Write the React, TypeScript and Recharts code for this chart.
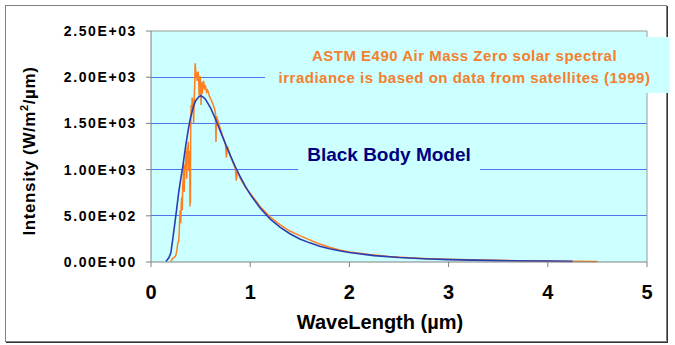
import React from "react";
import {
  LineChart,
  Line,
  XAxis,
  YAxis,
  CartesianGrid,
  ReferenceLine,
} from "recharts";

// black body model (W/m2/um)
const bbWave = [
  0.15, 0.18, 0.2, 0.22, 0.25, 0.28, 0.3, 0.32, 0.35, 0.38, 0.4, 0.43, 0.45,
  0.48, 0.5, 0.53, 0.55, 0.6, 0.65, 0.7, 0.75, 0.8, 0.85, 0.9, 0.95, 1.0, 1.1,
  1.2, 1.3, 1.4, 1.5, 1.6, 1.7, 1.8, 1.9, 2.0, 2.25, 2.5, 2.75, 3.0, 3.5, 4.0,
  4.25,
];
const bbIntensity = [
  5, 45, 100, 250, 500, 760, 900, 1030, 1260, 1460, 1570, 1690, 1745, 1786,
  1800, 1782, 1760, 1669, 1548, 1414, 1280, 1151, 1031, 920, 821, 732, 584,
  467, 377, 306, 250, 207, 171, 143, 121, 102, 69, 49, 35, 26, 15, 9, 7,
];

// ASTM E490 AM0 spectrum
const am0Wave = [
  0.2, 0.22, 0.24, 0.25, 0.26, 0.27, 0.28, 0.285, 0.29, 0.295, 0.3, 0.305,
  0.31, 0.315, 0.32, 0.325, 0.33, 0.335, 0.34, 0.345, 0.35, 0.355, 0.36,
  0.365, 0.37, 0.375, 0.38, 0.385, 0.39, 0.393, 0.396, 0.397, 0.4, 0.405,
  0.41, 0.415, 0.42, 0.425, 0.43, 0.435, 0.44, 0.445, 0.45, 0.455, 0.46,
  0.465, 0.47, 0.475, 0.48, 0.485, 0.49, 0.495, 0.5, 0.505, 0.51, 0.515,
  0.52, 0.525, 0.53, 0.54, 0.55, 0.56, 0.57, 0.58, 0.59, 0.6, 0.62, 0.64,
  0.65, 0.655, 0.66, 0.68, 0.7, 0.72, 0.75, 0.76, 0.77, 0.8, 0.85, 0.86, 0.87,
  0.9, 0.95, 1.0, 1.1, 1.2, 1.3, 1.4, 1.5, 1.6, 1.7, 1.8, 1.9, 2.0, 2.2, 2.4,
  2.6, 2.8, 3.0, 3.2, 3.5, 3.8, 4.0, 4.2, 4.5,
];
const am0Intensity = [
  8, 40, 55, 70, 120, 200, 230, 330, 480, 560, 420, 620, 700, 560, 820, 900,
  1050, 760, 1000, 1060, 1090, 1200, 900, 1250, 1180, 1300, 1020, 980, 1200,
  600, 1000, 640, 1450, 1700, 1620, 1780, 1750, 1680, 1500, 1750, 1900, 2150,
  2080, 2000, 2050, 1960, 2030, 2060, 2000, 1800, 1950, 2010, 1920, 1700,
  1950, 1820, 1870, 1900, 1960, 1880, 1900, 1840, 1860, 1830, 1790, 1770,
  1720, 1660, 1610, 1300, 1580, 1510, 1440, 1370, 1280, 1130, 1250, 1150,
  1010, 880, 990, 905, 810, 745, 600, 490, 405, 335, 285, 240, 195, 160, 130,
  108, 80, 60, 45, 36, 30, 25, 18, 12, 10, 8, 6,
];

const xTicks = [0, 1, 2, 3, 4, 5];
const yTicks = [0, 500, 1000, 1500, 2000, 2500];
const yTickLabels = [
  "0.00E+00",
  "5.00E+02",
  "1.00E+03",
  "1.50E+03",
  "2.00E+03",
  "2.50E+03",
];
const gridValues = [500, 1000, 1500, 2000];

const bbData = bbWave.map((x, i) => ({ x, y: bbIntensity[i] }));
const am0Data = am0Wave.map((x, i) => ({ x, y: am0Intensity[i] }));

const FONT = "'Liberation Sans', Arial, sans-serif";

const App: React.FC = () => {
  return (
    <div
      style={{
        position: "absolute",
        left: 0,
        top: 0,
        width: 675,
        height: 345,
        background: "#fff",
        fontFamily: FONT,
        overflow: "hidden",
      }}
    >
      {/* outer frame */}
      <div
        style={{
          position: "absolute",
          left: 5,
          top: 5,
          width: 660,
          height: 335,
          border: "1px solid #808080",
          boxShadow: "1px 1px 0 #333",
        }}
      />

      <div style={{ position: "absolute", left: 0, top: 0 }}>
        <LineChart
          width={675}
          height={345}
          margin={{ top: 31, right: 28, bottom: 23, left: 0 }}
        >
          <CartesianGrid
            vertical={false}
            horizontal={false}
            fill="#ccffff"
            fillOpacity={1}
          />
          {gridValues.map((v) => (
            <ReferenceLine
              key={v}
              y={v}
              stroke="#4f74ee"
              strokeWidth={1}
              shapeRendering="crispEdges"
            />
          ))}
          <XAxis
            type="number"
            dataKey="x"
            domain={[0, 5]}
            ticks={xTicks}
            height={60}
            tickSize={5}
            tickMargin={18}
            stroke="#808080"
            tick={{ fill: "#000", fontSize: 20, fontWeight: "bold", fontFamily: FONT }}
          />
          <YAxis
            type="number"
            dataKey="y"
            domain={[0, 2500]}
            ticks={yTicks}
            width={151}
            tickSize={5}
            tickMargin={9}
            stroke="#808080"
            tickFormatter={(v: number) => yTickLabels[yTicks.indexOf(v)]}
            tick={{
              fill: "#000",
              fontSize: 14,
              fontWeight: "bold",
              fontFamily: FONT,
              letterSpacing: 1.6,
            }}
          />
          <ReferenceLine y={2500} stroke="#999" />
          <ReferenceLine x={5} stroke="#999" />
          <Line
            data={am0Data}
            dataKey="y"
            type="linear"
            stroke="#ff7f1e"
            strokeWidth={1.5}
            dot={false}
            isAnimationActive={false}
          />
          <Line
            data={bbData}
            dataKey="y"
            type="linear"
            stroke="#2a3db0"
            strokeWidth={1.6}
            dot={false}
            isAnimationActive={false}
          />
        </LineChart>
      </div>

      {/* y axis title */}
      <div
        style={{
          position: "absolute",
          left: 30 - 110,
          top: 151 - 11,
          width: 220,
          height: 22,
          lineHeight: "22px",
          textAlign: "center",
          transform: "rotate(-90deg)",
          fontSize: 17,
          fontWeight: "bold",
          letterSpacing: 0.6,
          color: "#000",
          whiteSpace: "nowrap",
        }}
      >
        Intensity (W/m<sup style={{ fontSize: 11, lineHeight: 0 }}>2</sup>/µm)
      </div>

      {/* x axis title */}
      <div
        style={{
          position: "absolute",
          left: 280,
          top: 310,
          width: 200,
          height: 24,
          lineHeight: "24px",
          textAlign: "center",
          fontSize: 20,
          fontWeight: "bold",
          color: "#000",
          whiteSpace: "nowrap",
        }}
      >
        WaveLength (µm)
      </div>

      {/* AM0 annotation */}
      <div
        style={{
          position: "absolute",
          left: 265,
          top: 37,
          width: 405,
          height: 56,
          background: "#ccffff",
          color: "#f47f2e",
          fontSize: 15,
          fontWeight: "bold",
          letterSpacing: 0.5,
          textAlign: "center",
          lineHeight: "21.5px",
          paddingTop: 8,
          boxSizing: "border-box",
          paddingRight: 6,
          whiteSpace: "nowrap",
        }}
      >
        ASTM E490 Air Mass Zero solar spectral
        <br />
        irradiance is based on data from satellites (1999)
      </div>

      {/* black body label */}
      <div
        style={{
          position: "absolute",
          left: 298,
          top: 142,
          width: 182,
          height: 34,
          lineHeight: "26px",
          background: "#ccffff",
          color: "#000080",
          fontSize: 19,
          fontWeight: "bold",
          textAlign: "center",
          whiteSpace: "nowrap",
        }}
      >
        Black Body Model
      </div>
    </div>
  );
};

export default App;
